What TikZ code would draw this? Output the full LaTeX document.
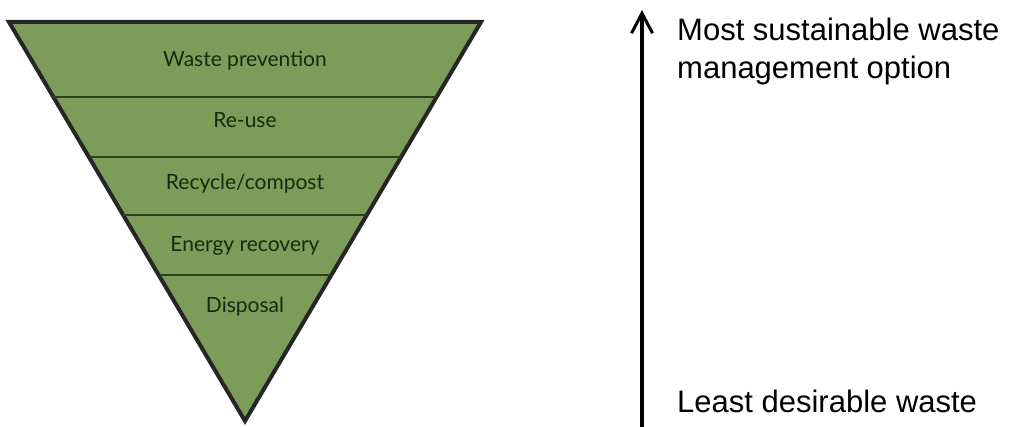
\documentclass[tikz,border=0pt]{standalone}
\usepackage{fontspec}
\setmainfont{Liberation Sans}
\newfontfamily\levelfont{Lato}
\usetikzlibrary{calc,arrows.meta}

\definecolor{levelgreen}{HTML}{7C9C59}
\definecolor{darkgreen}{HTML}{2C401F}
\definecolor{labelgreen}{HTML}{18290F}

\tikzset{
    level/.style={font=\levelfont\fontsize{21}{21}\selectfont, text=labelgreen, anchor=base, inner sep=0pt},
    divider/.style={darkgreen, line width=2.5pt},
    side/.style={font=\fontsize{31}{38}\selectfont, anchor=base west, inner sep=0pt}
}

\begin{document}
\begin{tikzpicture}[x=1pt, y=-1pt]
    \useasboundingbox (0,0) rectangle (1010,427);

    % Define coordinates
    \coordinate (TL) at (9,22);
    \coordinate (TR) at (481,22);
    \coordinate (A) at (245,421);

    % Inverted triangle
    \draw[fill=levelgreen, line width=4pt, line join=miter, draw=black!85] (TL) -- (TR) -- (A) -- cycle;

    % Level dividers
    \foreach \t in {0.188, 0.338, 0.484, 0.634}
        \draw[divider] ($(TL)!\t!(A)$) -- ($(TR)!\t!(A)$);

    % Level labels
    \node[level] (prevention) at (245,67) {Waste prevention};
    \node[level] (reuse) at (245,128) {Re-use};
    \node[level] (recycle) at (245,190) {Recycle/compost};
    \node[level] (energy) at (245,252) {Energy recovery};
    \node[level] (disposal) at (245,313) {Disposal};

    % Direction arrow
    \coordinate (low) at (642,427);
    \coordinate (high) at (642,10);
    \draw[-{Straight Barb[length=20pt, width=21pt, line width=3pt]}, line width=3.2pt] (low) -- (high);

    % Arrow labels
    \node[side] (most) at (677,41) {Most sustainable waste};
    \node[side] (option) at (677,79) {management option};
    \node[side] (least) at (677,413) {Least desirable waste};
\end{tikzpicture}
\end{document}
